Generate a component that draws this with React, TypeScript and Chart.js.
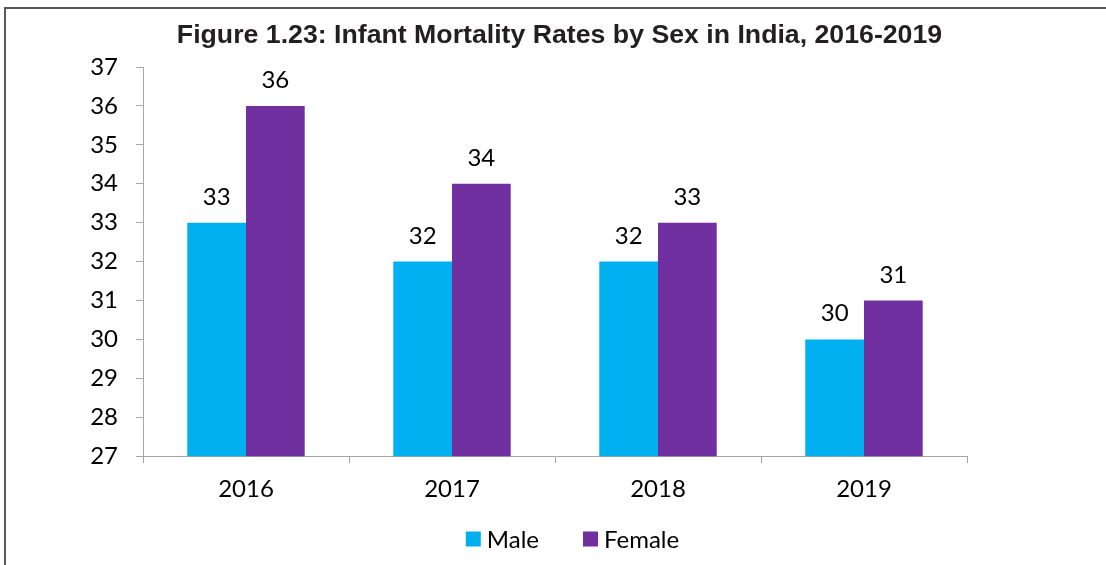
import React, { useEffect, useRef } from "react";
import { Chart, registerables } from "chart.js";

Chart.register(...registerables);

const titleText = "Figure 1.23: Infant Mortality Rates by Sex in India, 2016-2019";
const years = ["2016", "2017", "2018", "2019"];
const maleRates = [33, 32, 32, 30];
const femaleRates = [36, 34, 33, 31];
const seriesNames = ["Male", "Female"];
const seriesColors = ["#00B0F0", "#7030A0"];
const yMin = 27;
const yMax = 37;

const BODY_FONT = "Lato, 'Open Sans', sans-serif";
const TITLE_FONT = "'Liberation Sans', Arial, sans-serif";
const AXIS_GRAY = "#a6a6a6";

const valueLabels = {
  id: "valueLabels",
  afterDatasetsDraw(chart: any) {
    const ctx = chart.ctx;
    ctx.save();
    ctx.font = `24px ${BODY_FONT}`;
    ctx.fillStyle = "#000000";
    ctx.textAlign = "center";
    ctx.textBaseline = "alphabetic";
    chart.data.datasets.forEach((ds: any, i: number) => {
      const meta = chart.getDatasetMeta(i);
      meta.data.forEach((el: any, j: number) => {
        ctx.fillText(String(ds.data[j]), el.x, el.y - 18);
      });
    });
    ctx.restore();
  },
};

const frameTitleLegend = {
  id: "frameTitleLegend",
  afterDraw(chart: any) {
    const ctx = chart.ctx;
    ctx.save();
    // frame
    ctx.strokeStyle = "#595959";
    ctx.lineWidth = 2;
    ctx.beginPath();
    ctx.moveTo(5, chart.height);
    ctx.lineTo(5, 8);
    ctx.lineTo(chart.width, 8);
    ctx.stroke();

    // title
    ctx.font = `bold 26.7px ${TITLE_FONT}`;
    ctx.fillStyle = "#231f20";
    ctx.textAlign = "center";
    ctx.textBaseline = "alphabetic";
    ctx.fillText(titleText, 559.5, 43);

    // legend
    ctx.font = `24px ${BODY_FONT}`;
    ctx.textBaseline = "middle";
    ctx.textAlign = "left";
    const box = 15;
    const textGap = 6;
    const itemGap = 44;
    const cy = 539;
    const items = chart.data.datasets.map((ds: any) => ({
      text: ds.label,
      color: ds.backgroundColor,
      w: box + textGap + ctx.measureText(ds.label).width,
    }));
    const total =
      items.reduce((s: number, it: any) => s + it.w, 0) + itemGap * (items.length - 1);
    let x = 572.5 - total / 2;
    items.forEach((it: any) => {
      ctx.fillStyle = it.color;
      ctx.fillRect(x, cy - box / 2, box, box);
      ctx.fillStyle = "#000000";
      ctx.fillText(it.text, x + box + textGap, cy + 1);
      x += it.w + itemGap;
    });
    ctx.restore();
  },
};

export default function App() {
  const canvasRef = useRef<HTMLCanvasElement | null>(null);

  useEffect(() => {
    document.body.style.margin = "0";
    let chart: Chart | null = null;
    let cancelled = false;

    const build = () => {
      if (cancelled || !canvasRef.current) return;
      chart = new Chart(canvasRef.current, {
        type: "bar",
        data: {
          labels: years,
          datasets: [
            {
              label: seriesNames[0],
              data: maleRates,
              backgroundColor: seriesColors[0],
              borderWidth: 0,
              categoryPercentage: 0.57,
              barPercentage: 1.0,
            },
            {
              label: seriesNames[1],
              data: femaleRates,
              backgroundColor: seriesColors[1],
              borderWidth: 0,
              categoryPercentage: 0.57,
              barPercentage: 1.0,
            },
          ],
        },
        options: {
          responsive: false,
          animation: false,
          devicePixelRatio: 1,
          layout: { padding: { left: 0, right: 139, top: 67, bottom: 49 } },
          plugins: {
            title: { display: false },
            legend: { display: false },
            tooltip: { enabled: false },
          },
          scales: {
            x: {
              grid: {
                display: true,
                drawOnChartArea: false,
                drawTicks: true,
                tickLength: 7,
                color: AXIS_GRAY,
                offset: true,
              },
              border: { display: true, color: AXIS_GRAY, width: 1 },
              ticks: {
                color: "#000000",
                font: { family: BODY_FONT, size: 24 },
                padding: 12,
              },
            },
            y: {
              min: yMin,
              max: yMax,
              grid: {
                display: true,
                drawOnChartArea: false,
                drawTicks: true,
                tickLength: 7,
                color: AXIS_GRAY,
              },
              border: { display: true, color: AXIS_GRAY, width: 1 },
              ticks: {
                stepSize: 1,
                color: "#000000",
                font: { family: BODY_FONT, size: 24 },
                padding: 18,
              },
              afterFit(scale: any) {
                scale.width = 143;
              },
            },
          },
        },
        plugins: [valueLabels, frameTitleLegend],
      });
    };

    const fontsReady = (document as any).fonts
      ? Promise.all([
          (document as any).fonts.load(`24px Lato`),
          (document as any).fonts.load(`bold 26px 'Liberation Sans'`),
        ]).catch(() => null)
      : Promise.resolve(null);
    fontsReady.then(build);

    return () => {
      cancelled = true;
      if (chart) chart.destroy();
    };
  }, []);

  return (
    <div style={{ width: 1106, height: 565, overflow: "hidden", background: "#ffffff" }}>
      <canvas ref={canvasRef} width={1106} height={565} style={{ display: "block" }} />
    </div>
  );
}
